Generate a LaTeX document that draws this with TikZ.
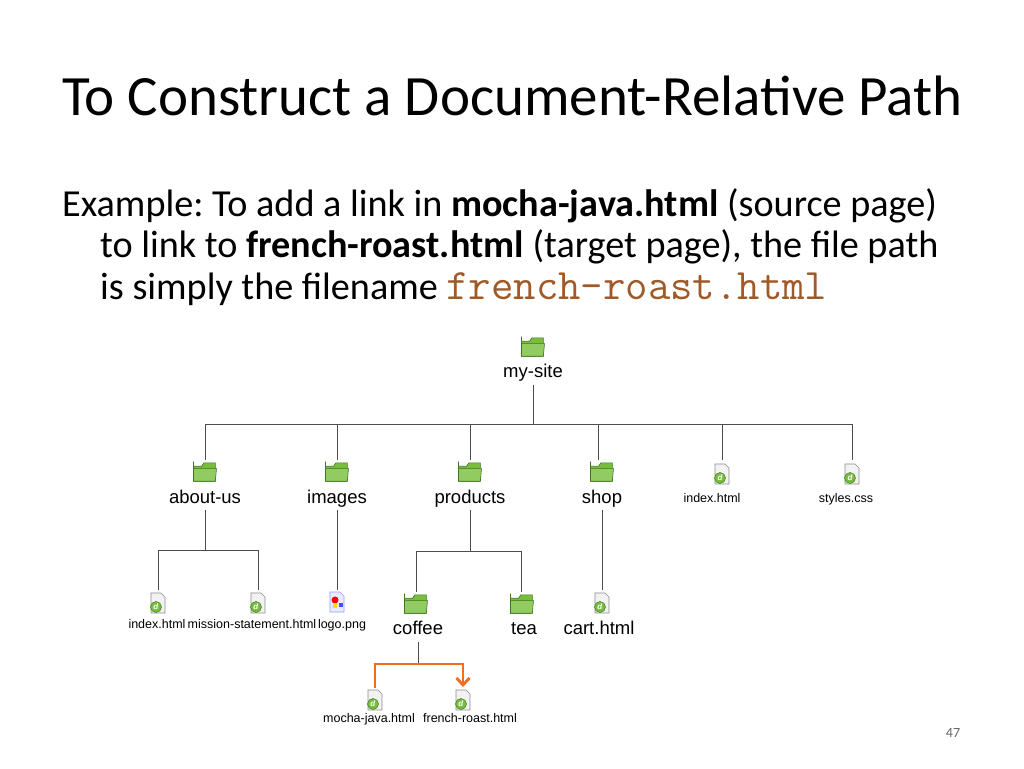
\documentclass[tikz,border=0pt]{standalone}
\usepackage{fontspec}
\usetikzlibrary{arrows.meta}
\setmainfont{Carlito}
\newfontfamily\arial{Liberation Sans}
\frenchspacing
\definecolor{fold}{RGB}{120,190,60}
\definecolor{foldd}{RGB}{60,120,30}
\definecolor{orng}{RGB}{240,110,30}
\definecolor{mono}{RGB}{160,90,40}
\tikzset{
  lbl/.style={font=\arial\fontsize{18.5}{20}\selectfont, inner sep=0, anchor=base},
  slbl/.style={font=\arial\fontsize{12.5}{14}\selectfont, inner sep=0, anchor=base},
  ln/.style={draw=black!70, line width=0.8pt},
  body/.style={anchor=base west, inner sep=0, font=\fontsize{38.2}{44}\selectfont},
  folder/.pic={
    \begin{scope}[scale=1.15]
    \fill[fold, draw=foldd, line width=0.6pt] (-10,-9) -- (-10,-5) -- (-3,-5) -- (-1,-8) -- (9,-8) -- (9,8) -- (-10,8) -- cycle;
    \fill[fold!80!white, draw=foldd, line width=0.6pt] (-10,-3) -- (10,-3) -- (9,8) -- (-10,8) -- cycle;
    \end{scope}
  },
  fileic/.pic={
    \fill[black!5, draw=black!45, line width=0.6pt] (-7,-10) -- (3,-10) -- (7,-6) -- (7,10) -- (-7,10) -- cycle;
    \fill[fold, draw=foldd, line width=0.5pt] (-2,4) circle (5.5);
    \node[font=\arial\bfseries\fontsize{8}{8}\selectfont, white, inner sep=0] at (-2,4) {\textit{d}};
  },
  pngic/.pic={
    \fill[blue!8, draw=blue!40, line width=0.6pt] (-7,-10) -- (3,-10) -- (7,-6) -- (7,10) -- (-7,10) -- cycle;
    \fill[red] (-2,-2) circle (3.5);
    \fill[blue!70] (2,1) rectangle (6,5);
    \fill[yellow!80!orange] (-4,1) rectangle (0,6);
  }
}
\begin{document}
\begin{tikzpicture}[x=1pt,y=-1pt]
\useasboundingbox (0,0) rectangle (1024,768);
\node[anchor=base west, inner sep=0, font=\fontsize{57}{64}\selectfont] (title) at (62,115) {To Construct a Document-Relative Path};
\node[body] (l1) at (62,216) {Example: To add a link in \textbf{mocha-java.html} (source page)};
\node[body] (l2) at (100,257) {to link to \textbf{french-roast.html} (target page), the file path};
\node[body] (l3) at (100,299) {is simply the filename {\ttfamily\fontsize{43.5}{44}\selectfont\color{mono}french-roast.html}};

\pic at (533,347) {folder};
\node[lbl] (mysite) at (533,377) {my-site};
\foreach \x/\n/\t in {205/aboutus/about-us,337/images/images,470/products/products,602/shop/shop}{
  \pic at (\x,472) {folder};
  \node[lbl] (\n) at (\x,503) {\t};
}
\pic at (722,474) {fileic};
\node[slbl] (index) at (712,502) {index.html};
\pic at (852,474) {fileic};
\node[slbl] (styles) at (846,502) {styles.css};
\pic at (158,603) {fileic};
\node[slbl] (aindex) at (157,628) {index.html};
\pic at (258,603) {fileic};
\node[slbl] (mission) at (252,628) {mission-statement.html};
\pic at (337,602) {pngic};
\node[slbl] (logo) at (342,628) {logo.png};
\pic at (416,604) {folder};
\node[lbl] (coffee) at (418,634) {coffee};
\pic at (522,604) {folder};
\node[lbl] (tea) at (524,634) {tea};
\pic at (602,603) {fileic};
\node[lbl] (cart) at (599,634) {cart.html};
\pic at (375,700) {fileic};
\node[slbl] (mocha) at (369,722) {mocha-java.html};
\pic at (463,700) {fileic};
\node[slbl] (french) at (470,722) {french-roast.html};

\coordinate (r) at (533,424);
\draw[ln] (533,385) -- (r);
\draw[ln] (205,460) |- (852,424) -- (852,460);
\foreach \x in {337,470,598,722}{\draw[ln] (\x,424) -- (\x,460);}
\draw[ln] (205,510) -- (205,550);
\draw[ln] (158,590) |- (258,550) -- (258,590);
\draw[ln] (337,510) -- (337,590);
\draw[ln] (470,510) -- (470,551);
\draw[ln] (416,592) |- (521,551) -- (521,592);
\draw[ln] (602,510) -- (602,590);
\draw[ln] (418,642) -- (418,664);
\draw[orng, line width=2.8pt, -{Straight Barb[length=7pt,width=13pt]}] (375,688) -- (375,664) -- (463,664) -- (463,687);
\node[font=\fontsize{14}{16}\selectfont, text=black!60, inner sep=0] (pg) at (953,733) {47};
\end{tikzpicture}
\end{document}
